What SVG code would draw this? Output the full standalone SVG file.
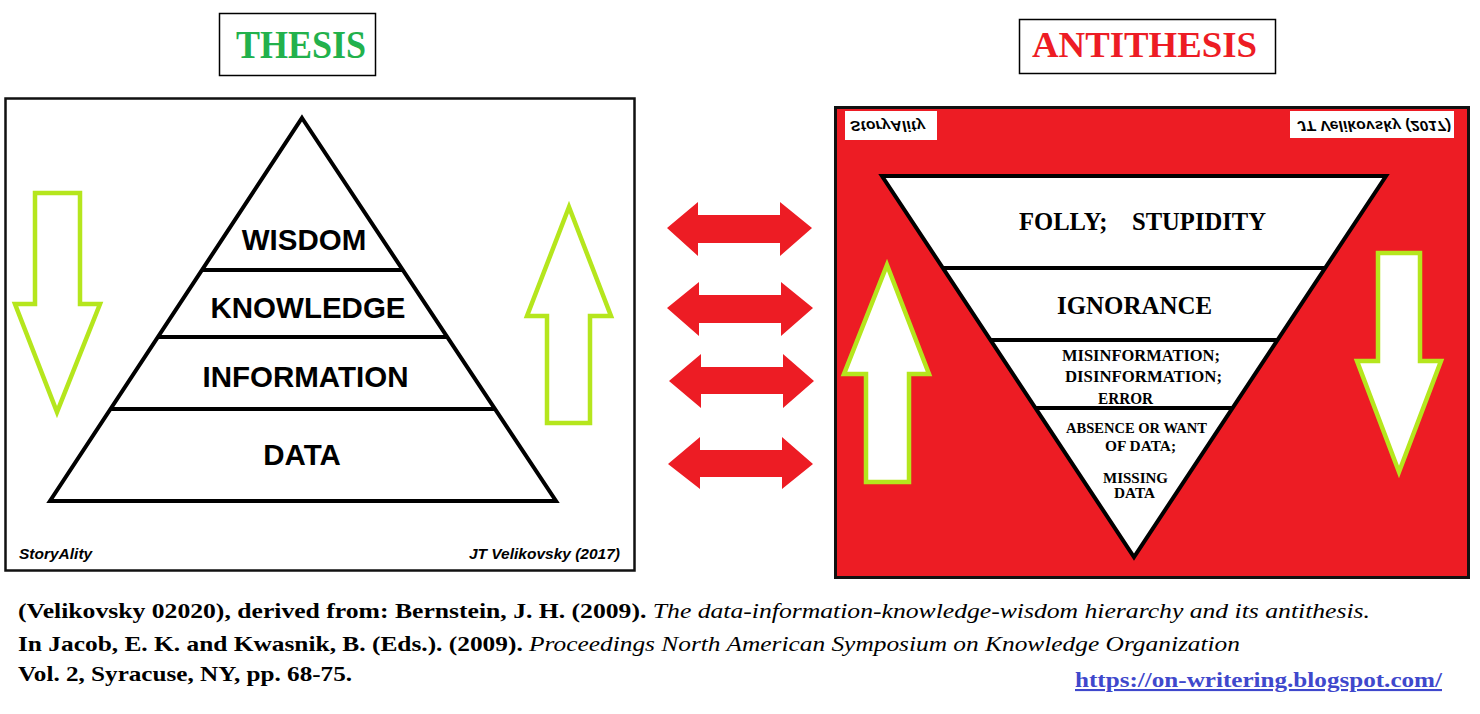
<svg xmlns="http://www.w3.org/2000/svg" width="1480" height="714" viewBox="0 0 1480 714">
<style>
.frame{fill:#fff;stroke:#111;stroke-width:2.5}
.tri{fill:#fff;stroke:#000;stroke-width:4;stroke-linejoin:miter}
.div{stroke:#000;stroke-width:4}
.garrow{fill:#fff;stroke:#b5e61d;stroke-width:4.5;stroke-linejoin:miter}
.rarrow{fill:#ed1c24}
.lvl{font-family:"Liberation Sans",Arial,sans-serif;font-weight:bold;font-size:29.5px;fill:#000;text-anchor:middle}
.sig{font-family:"Liberation Sans",Arial,sans-serif;font-weight:bold;font-style:italic;font-size:15.5px;fill:#000}
.srf{font-family:"Liberation Serif","Times New Roman",serif;font-weight:bold;fill:#000}
.cap{font-family:"Liberation Serif","Times New Roman",serif;font-size:21px;fill:#000}
.b{font-weight:bold}
.i{font-style:italic}
</style>

<g id="thesis-label">
<rect x="219.5" y="13.5" width="156" height="62" fill="#fff" stroke="#000" stroke-width="1.5"/>
<text x="236" y="58" font-family="Liberation Serif, serif" font-weight="bold" font-size="39" fill="#22b14c" textLength="130" lengthAdjust="spacingAndGlyphs">THESIS</text>
</g>

<g id="antithesis-label">
<rect x="1019.5" y="19.5" width="256" height="54" fill="#fff" stroke="#000" stroke-width="1.5"/>
<text x="1032" y="57" font-family="Liberation Serif, serif" font-weight="bold" font-size="35" fill="#ed1c24" textLength="225" lengthAdjust="spacingAndGlyphs">ANTITHESIS</text>
</g>

<g id="thesis-panel">
<rect class="frame" x="5.5" y="98.5" width="629" height="472"/>
<polygon class="tri" points="302,118 556,501 50,501"/>
<line class="div" x1="202" y1="270" x2="402" y2="270"/>
<line class="div" x1="157" y1="337" x2="447" y2="337"/>
<line class="div" x1="110" y1="409" x2="494" y2="409"/>
<text class="lvl" x="304" y="250">WISDOM</text>
<text class="lvl" x="308" y="318">KNOWLEDGE</text>
<text class="lvl" x="305.5" y="387">INFORMATION</text>
<text class="lvl" x="302" y="465">DATA</text>
<text class="sig" x="19" y="559">StoryAlity</text>
<text class="sig" x="620" y="559" text-anchor="end">JT Velikovsky (2017)</text>
<polygon class="garrow" points="35,193 80,193 80,304 100,304 57,412 15,304 35,304"/>
<polygon class="garrow" points="569,207 611,316 590,316 590,423 547,423 547,316 527,316"/>
</g>

<g id="antithesis-panel">
<rect x="835.5" y="107.5" width="633" height="470" fill="#ed1c24" stroke="#111" stroke-width="3"/>
<rect x="845" y="111" width="92" height="29" fill="#fff"/>
<rect x="1290" y="111" width="164" height="27" fill="#fff"/>
<text class="sig" transform="matrix(1 0 0 -1 0 242)" x="850" y="121" textLength="75">StoryAlity</text>
<text class="sig" transform="matrix(1 0 0 -1 0 242)" x="1297" y="121" textLength="154">JT Velikovsky (2017)</text>
<polygon class="tri" points="882,176 1386,176 1134,557"/>
<line class="div" x1="943" y1="268" x2="1325" y2="268"/>
<line class="div" x1="990" y1="340" x2="1278" y2="340"/>
<line class="div" x1="1035" y1="408" x2="1233" y2="408"/>
<text class="srf" x="1019" y="230" font-size="25" textLength="247" lengthAdjust="spacingAndGlyphs" xml:space="preserve">FOLLY;    STUPIDITY</text>
<text class="srf" x="1057" y="314" font-size="25" textLength="155" lengthAdjust="spacingAndGlyphs">IGNORANCE</text>
<text class="srf" x="1062" y="361" font-size="16" textLength="158" lengthAdjust="spacingAndGlyphs">MISINFORMATION;</text>
<text class="srf" x="1065" y="382" font-size="16" textLength="157" lengthAdjust="spacingAndGlyphs">DISINFORMATION;</text>
<text class="srf" x="1098" y="404" font-size="16" textLength="55" lengthAdjust="spacingAndGlyphs">ERROR</text>
<text class="srf" x="1066" y="433" font-size="15" textLength="141" lengthAdjust="spacingAndGlyphs">ABSENCE OR WANT</text>
<text class="srf" x="1105" y="451" font-size="15" textLength="71" lengthAdjust="spacingAndGlyphs">OF DATA;</text>
<text class="srf" x="1103" y="483" font-size="15" textLength="65" lengthAdjust="spacingAndGlyphs">MISSING</text>
<text class="srf" x="1114" y="498" font-size="15" textLength="41" lengthAdjust="spacingAndGlyphs">DATA</text>
<polygon class="garrow" points="887,265 929,374 909,374 909,482 866,482 866,374 844,374"/>
<polygon class="garrow" points="1378,253 1420,253 1420,361 1441,361 1399,472 1357,361 1378,361"/>
</g>

<g id="connectors">
<polygon class="rarrow" points="667,228 698,202 698,215 780,215 780,202 812,228 780,256 780,243 698,243 698,256"/>
<polygon class="rarrow" points="667,308 699,282 699,295 781,295 781,282 813,308 781,336 781,323 699,323 699,336"/>
<polygon class="rarrow" points="669,381 701,354 701,367 783,367 783,354 814,381 783,408 783,394 701,394 701,408"/>
<polygon class="rarrow" points="668,464 700,437 700,450 782,450 782,437 813,464 782,489 782,477 700,477 700,489"/>
</g>

<g id="caption">
<text class="cap" x="18" y="618" textLength="1352" lengthAdjust="spacingAndGlyphs"><tspan class="b">(Velikovsky 02020), derived from: Bernstein, J. H. (2009). </tspan><tspan class="i">The data-information-knowledge-wisdom hierarchy and its antithesis.</tspan></text>
<text class="cap" x="18" y="651" textLength="1222" lengthAdjust="spacingAndGlyphs"><tspan class="b">In Jacob, E. K. and Kwasnik, B. (Eds.). (2009). </tspan><tspan class="i">Proceedings North American Symposium on Knowledge Organization</tspan></text>
<text class="cap b" x="18" y="681" textLength="334" lengthAdjust="spacingAndGlyphs">Vol. 2, Syracuse, NY, pp. 68-75.</text>
<text class="cap b" x="1075" y="687" fill="#3f48cc" style="fill:#3f48cc" text-decoration="underline" textLength="367" lengthAdjust="spacingAndGlyphs">https://on-writering.blogspot.com/</text>
</g>
</svg>
